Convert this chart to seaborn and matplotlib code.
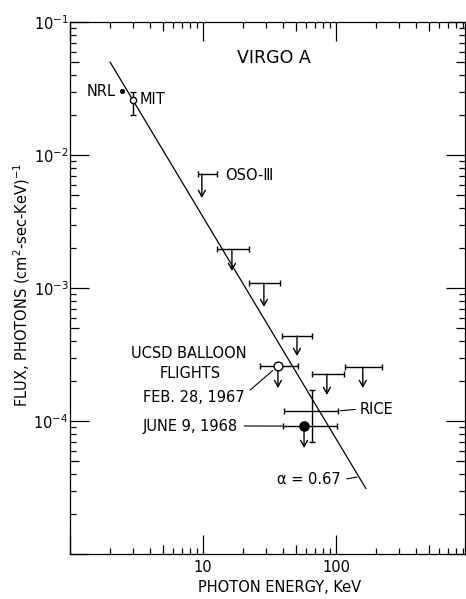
import numpy as np
import matplotlib
matplotlib.use("Agg")
import matplotlib.pyplot as plt
import seaborn as sns
from matplotlib.ticker import LogLocator, NullLocator, FixedLocator, NullFormatter, FixedFormatter

# ---------------- data ----------------
# power-law line (alpha = 0.67), two end points
line_energy = [2.0, 168.0]
line_flux = [5.0e-2, 3.1e-5]

# NRL point
nrl_energy = [2.46]
nrl_flux = [3.03e-2]

# MIT point with vertical error bar
mit_energy = [2.98]
mit_flux = [2.59e-2]
mit_flux_lo = [2.0e-2]
mit_flux_hi = [2.98e-2]

# upper limits (first one is OSO-III)
ul_energy = [9.8, 16.5, 28.7, 50.9, 85.4, 159.0]
ul_energy_lo = [9.17, 12.7, 22.2, 39.3, 65.7, 116.0]
ul_energy_hi = [12.7, 22.2, 37.9, 65.7, 114.0, 220.0]
ul_flux = [7.2e-3, 1.96e-3, 1.09e-3, 4.35e-4, 2.25e-4, 2.55e-4]
ul_flux_tip = [4.75e-3, 1.34e-3, 7.2e-4, 3.08e-4, 1.57e-4, 1.77e-4]

# UCSD balloon flights
ucsd_dates = ["FEB. 28, 1967", "JUNE 9, 1968"]
ucsd_energy = [36.6, 57.5]
ucsd_energy_lo = [26.8, 39.9]
ucsd_energy_hi = [51.5, 102.0]
ucsd_flux = [2.59e-4, 9.16e-5]
ucsd_flux_tip = [1.77e-4, 6.26e-5]

# RICE
rice_energy = [65.7]
rice_energy_lo = [40.6]
rice_energy_hi = [104.0]
rice_flux = [1.19e-4]
rice_flux_lo = [6.95e-5]
rice_flux_hi = [1.71e-4]

x_ticks = [10, 100]
x_tick_labels = ["10", "100"]
y_ticks = [1e-4, 1e-3, 1e-2, 1e-1]
y_tick_labels = [r"$10^{-4}$", r"$10^{-3}$", r"$10^{-2}$", r"$10^{-1}$"]

# ---------------- style ----------------
sns.set_style("ticks")
plt.rcParams["font.family"] = ["DejaVu Sans"]
plt.rcParams["mathtext.fontset"] = "dejavusans"
plt.rcParams["text.color"] = "black"
plt.rcParams["axes.labelcolor"] = "black"
plt.rcParams["xtick.color"] = "black"
plt.rcParams["ytick.color"] = "black"
LW = 1.0
FS = 10.5
ARROW = "->,head_length=0.45,head_width=0.25"

fig = plt.figure(figsize=(4.66, 5.99), dpi=100)
ax = fig.add_axes([70 / 466, 45 / 599, 395 / 466, 532 / 599])
ax.set_xscale("log")
ax.set_yscale("log")


def axfrac(px, py):
    return ((px - 70) / 395, (554 - py) / 532)


# power-law line
sns.lineplot(x=line_energy, y=line_flux, color="black", lw=0.9, ax=ax, zorder=2)

# upper limits
ax.errorbar(ul_energy, ul_flux,
            xerr=[np.subtract(ul_energy, ul_energy_lo), np.subtract(ul_energy_hi, ul_energy)],
            fmt="none", ecolor="black", elinewidth=LW, capsize=2.0, capthick=LW, zorder=3)
for x, y0, y1 in zip(ul_energy, ul_flux, ul_flux_tip):
    ax.annotate("", xy=(x, y1), xytext=(x, y0),
                arrowprops=dict(arrowstyle=ARROW, lw=LW, color="black",
                                mutation_scale=10, shrinkA=0, shrinkB=0))

# UCSD
ax.errorbar(ucsd_energy, ucsd_flux,
            xerr=[np.subtract(ucsd_energy, ucsd_energy_lo), np.subtract(ucsd_energy_hi, ucsd_energy)],
            fmt="none", ecolor="black", elinewidth=LW, capsize=2.0, capthick=LW, zorder=3)
for x, y0, y1 in zip(ucsd_energy, ucsd_flux, ucsd_flux_tip):
    ax.annotate("", xy=(x, y1), xytext=(x, y0),
                arrowprops=dict(arrowstyle=ARROW, lw=LW, color="black",
                                mutation_scale=10, shrinkA=0, shrinkB=0))
sns.scatterplot(x=ucsd_energy[:1], y=ucsd_flux[:1], marker="o", s=40, color="white",
                edgecolor="black", linewidth=LW, ax=ax, zorder=5)
sns.scatterplot(x=ucsd_energy[1:], y=ucsd_flux[1:], marker="o", s=44, color="black",
                edgecolor="black", linewidth=LW, ax=ax, zorder=5)

# RICE
ax.errorbar(rice_energy, rice_flux,
            xerr=[np.subtract(rice_energy, rice_energy_lo), np.subtract(rice_energy_hi, rice_energy)],
            yerr=[np.subtract(rice_flux, rice_flux_lo), np.subtract(rice_flux_hi, rice_flux)],
            fmt="none", ecolor="black", elinewidth=LW, capsize=2.0, capthick=LW, zorder=3)

# MIT and NRL
ax.errorbar(mit_energy, mit_flux,
            yerr=[np.subtract(mit_flux, mit_flux_lo), np.subtract(mit_flux_hi, mit_flux)],
            fmt="none", ecolor="black", elinewidth=LW, capsize=2.0, capthick=LW, zorder=3)
sns.scatterplot(x=mit_energy, y=mit_flux, marker="o", s=20, color="white",
                edgecolor="black", linewidth=LW, ax=ax, zorder=5)
sns.scatterplot(x=nrl_energy, y=nrl_flux, marker="o", s=10, color="black",
                edgecolor="black", linewidth=0.5, ax=ax, zorder=5)

# axes limits and ticks
ax.set_xlim(1, 933)
ax.set_ylim(1e-5, 1e-1)
ax.xaxis.set_major_locator(FixedLocator([1, 10, 100, 1000]))
ax.xaxis.set_major_formatter(FixedFormatter(["", "10", "100", ""]))
ax.xaxis.set_minor_locator(LogLocator(base=10, subs=[2, 3, 4, 6, 7, 8, 9], numticks=20))
ax.xaxis.set_minor_formatter(NullFormatter())
ax.yaxis.set_major_locator(FixedLocator([1e-5] + y_ticks))
ax.yaxis.set_major_formatter(FixedFormatter([""] + y_tick_labels))
ax.yaxis.set_minor_locator(LogLocator(base=10, subs=[2, 3, 4, 6, 7, 8, 9], numticks=20))
ax.yaxis.set_minor_formatter(NullFormatter())
ax.tick_params(which="both", direction="in", top=True, right=True, width=0.9, colors="black")
ax.tick_params(which="major", length=14, labelsize=FS)
ax.tick_params(axis="x", which="major", pad=4)
ax.tick_params(axis="y", which="major", pad=1)
ax.tick_params(which="minor", length=4)
for sp in ax.spines.values():
    sp.set_linewidth(0.9)
    sp.set_color("black")

# longer ticks at the 5s
for loc in ["bottom", "top"]:
    sec = ax.secondary_xaxis(loc)
    sec.xaxis.set_major_locator(FixedLocator([5, 50, 500]))
    sec.xaxis.set_minor_locator(NullLocator())
    sec.tick_params(which="both", direction="in", length=6.5, width=0.9, colors="black",
                    labelbottom=False, labeltop=False)
    sec.spines[loc].set_visible(False)
for loc in ["left", "right"]:
    sec = ax.secondary_yaxis(loc)
    sec.yaxis.set_major_locator(FixedLocator([5e-5, 5e-4, 5e-3, 5e-2]))
    sec.yaxis.set_minor_locator(NullLocator())
    sec.tick_params(which="both", direction="in", length=6.5, width=0.9, colors="black",
                    labelleft=False, labelright=False)
    sec.spines[loc].set_visible(False)

# texts
tk = dict(transform=ax.transAxes, color="black", fontsize=FS)
ax.text(*axfrac(274, 58), "VIRGO A", ha="center", va="center", fontsize=12.5,
        color="black", transform=ax.transAxes)
ax.text(*axfrac(116, 91), "NRL", ha="right", va="center", **tk)
ax.text(*axfrac(140, 99), "MIT", ha="left", va="center", **tk)
ax.text(*axfrac(225, 176), "OSO-Ⅲ", ha="left", va="center", **tk)
ax.text(*axfrac(189, 354), "UCSD BALLOON", ha="center", va="center", **tk)
ax.text(*axfrac(190, 373), "FLIGHTS", ha="center", va="center", **tk)

ax.annotate(ucsd_dates[0], xy=(ucsd_energy[0], ucsd_flux[0]), xytext=axfrac(143, 397),
            textcoords="axes fraction", ha="left", va="center", fontsize=FS, color="black",
            arrowprops=dict(arrowstyle="-", lw=0.8, color="black", shrinkA=2, shrinkB=5,
                            relpos=(1.0, 0.65)))
ax.annotate(ucsd_dates[1], xy=(ucsd_energy_lo[1], ucsd_flux[1]), xytext=axfrac(143, 426),
            textcoords="axes fraction", ha="left", va="center", fontsize=FS, color="black",
            arrowprops=dict(arrowstyle="-", lw=0.8, color="black", shrinkA=2, shrinkB=0,
                            relpos=(1.0, 0.5)))
ax.annotate("RICE", xy=(rice_energy_hi[0], rice_flux[0]), xytext=axfrac(360, 409),
            textcoords="axes fraction", ha="left", va="center", fontsize=FS, color="black",
            arrowprops=dict(arrowstyle="-", lw=0.8, color="black", shrinkA=1, shrinkB=1.5,
                            relpos=(0.0, 0.5)))
ax.annotate("α = 0.67", xy=axfrac(357, 477), xycoords="axes fraction",
            xytext=axfrac(277, 480), textcoords="axes fraction", ha="left", va="center",
            fontsize=FS, color="black",
            arrowprops=dict(arrowstyle="-", lw=0.8, color="black", shrinkA=2, shrinkB=0,
                            relpos=(1.0, 0.5)))

# axis labels
ax.text(*axfrac(280, 588), "PHOTON ENERGY, KeV", ha="center", va="center", fontsize=FS,
        color="black", transform=ax.transAxes)
ax.text(*axfrac(22, 285), r"FLUX, PHOTONS (cm$^{2}$-sec-KeV)$^{-1}$", ha="center",
        va="center", rotation=90, fontsize=FS, color="black", transform=ax.transAxes)

fig.savefig("out.png", dpi=100)
